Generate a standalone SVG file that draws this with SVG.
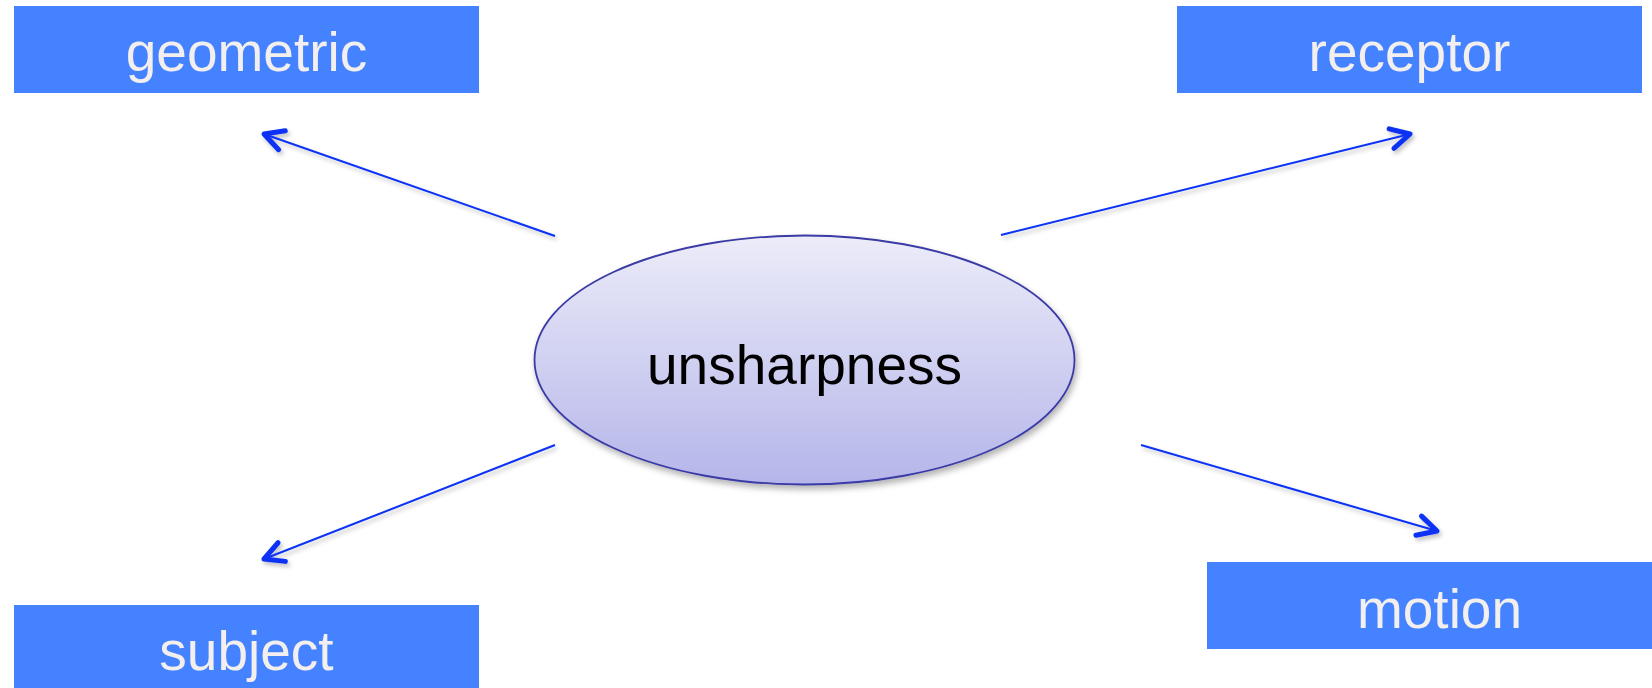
<svg xmlns="http://www.w3.org/2000/svg" width="1652" height="688" viewBox="0 0 1652 688">
<style>
.box{fill:#4482ff}
.lbl{font-family:"Liberation Sans",Arial,sans-serif;font-size:55px;fill:#f2efee;text-anchor:middle}
.conn{stroke:#0a32f5;stroke-width:2;fill:none;marker-end:url(#arr)}
.ctr{font-family:"Liberation Sans",Arial,sans-serif;font-size:55px;fill:#000;text-anchor:middle}
</style>
<defs>
<linearGradient id="eg" x1="0" y1="0" x2="0" y2="1">
<stop offset="0" stop-color="#ececf9"/>
<stop offset="1" stop-color="#b5b5ea"/>
</linearGradient>
<filter id="sh" x="-10%" y="-10%" width="130%" height="140%">
<feDropShadow dx="2" dy="4" stdDeviation="3" flood-color="#000" flood-opacity="0.3"/>
</filter>
<filter id="sh2" x="-20%" y="-20%" width="150%" height="160%">
<feDropShadow dx="2" dy="3" stdDeviation="2" flood-color="#000" flood-opacity="0.25"/>
</filter>
<marker id="arr" markerUnits="userSpaceOnUse" markerWidth="40" markerHeight="40" viewBox="-30 -20 40 40" refX="0" refY="0" orient="auto">
<path d="M-19,-10 L0,0 L-19,10" fill="none" stroke="#0a32f5" stroke-width="5" stroke-linecap="round" stroke-linejoin="round"/>
</marker>
</defs>
<g id="geometric"><rect class="box" x="14" y="6" width="465" height="87"/><text class="lbl" x="246.5" y="71">geometric</text></g>
<g id="receptor"><rect class="box" x="1177" y="6" width="465" height="87"/><text class="lbl" x="1409.5" y="71">receptor</text></g>
<g id="subject"><rect class="box" x="14" y="605" width="465" height="90"/><text class="lbl" x="246.5" y="670">subject</text></g>
<g id="motion"><rect class="box" x="1207" y="562" width="465" height="87"/><text class="lbl" x="1439.5" y="628">motion</text></g>
<g id="unsharpness"><ellipse cx="804.5" cy="360" rx="270" ry="124.5" fill="url(#eg)" stroke="#3a3aa6" stroke-width="1.8" filter="url(#sh)"/><text class="ctr" x="804.5" y="384">unsharpness</text></g>
<g id="connectors" filter="url(#sh2)">
<line class="conn" x1="555" y1="236" x2="264" y2="134"/>
<line class="conn" x1="1001" y1="235" x2="1410" y2="134"/>
<line class="conn" x1="555" y1="445" x2="264" y2="559"/>
<line class="conn" x1="1141" y1="445" x2="1437" y2="531"/>
</g>
</svg>
